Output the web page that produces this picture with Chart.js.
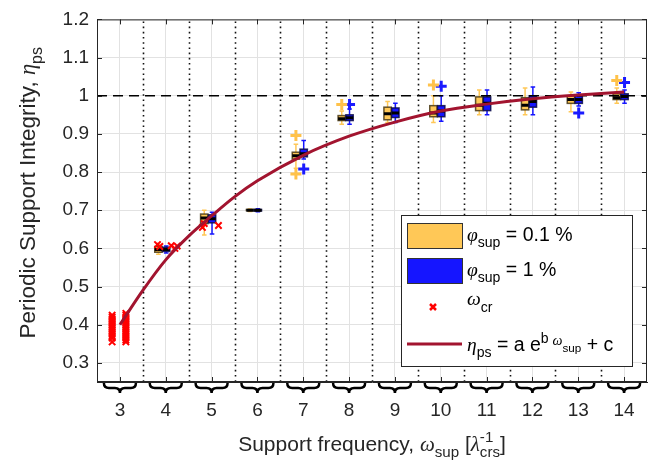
<!DOCTYPE html>
<html lang="en">
<head>
<meta charset="UTF-8" />
<title>Periodic Support Integrity</title>
<script src="https://cdn.jsdelivr.net/npm/chart.js"></script>
<style>
  html, body { margin: 0; padding: 0; background: #fff; }
  #wrap { width: 656px; height: 467px; }
</style>
</head>
<body>
<div id="wrap"><canvas id="chart" width="656" height="467"></canvas></div>
<script>
// ---- data ----
const xTicks = [3, 4, 5, 6, 7, 8, 9, 10, 11, 12, 13, 14];
const yTicks = [0.3, 0.4, 0.5, 0.6, 0.7, 0.8, 0.9, 1.0, 1.1, 1.2];

const boxFreqs = [4, 5, 6, 7, 8, 9, 10, 11, 12, 13, 14];
// phi_sup = 0.1 %
const lo01  = [0.585, 0.635, 0.697, 0.810, 0.925, 0.930, 0.930, 0.950, 0.950, 0.958, 0.980];
const q1_01 = [0.590, 0.665, 0.699, 0.834, 0.935, 0.937, 0.945, 0.961, 0.963, 0.980, 0.990];
const med01 = [0.597, 0.680, 0.700, 0.843, 0.940, 0.953, 0.955, 0.975, 0.975, 0.990, 0.995];
const q3_01 = [0.605, 0.690, 0.702, 0.852, 0.948, 0.970, 0.974, 0.997, 0.995, 1.000, 1.005];
const hi01  = [0.610, 0.700, 0.703, 0.873, 0.960, 0.985, 1.000, 1.015, 1.020, 1.010, 1.020];
// phi_sup = 1 %
const lo1  = [0.588, 0.638, 0.696, 0.834, 0.925, 0.930, 0.933, 0.950, 0.950, 0.973, 0.980];
const q1_1 = [0.592, 0.667, 0.698, 0.840, 0.935, 0.943, 0.945, 0.961, 0.970, 0.980, 0.990];
const med1 = [0.597, 0.678, 0.700, 0.848, 0.942, 0.955, 0.960, 0.980, 0.985, 0.990, 0.998];
const q3_1 = [0.603, 0.688, 0.702, 0.860, 0.950, 0.968, 0.974, 0.997, 1.000, 1.000, 1.005];
const hi1  = [0.606, 0.695, 0.704, 0.883, 0.965, 0.980, 1.000, 1.015, 1.023, 1.008, 1.015];

// outliers
const outX01 = [7, 7, 8, 10, 14];
const outY01 = [0.896, 0.795, 0.977, 1.028, 1.040];
const outX1  = [7, 8, 10, 13, 14];
const outY1  = [0.808, 0.977, 1.025, 0.955, 1.035];

// omega_cr points
const critX = [2.83, 2.83, 2.83, 2.83, 2.83, 2.83, 2.83, 2.83, 2.83, 2.83, 2.83, 2.83, 2.83, 2.83,
  3.13, 3.13, 3.13, 3.13, 3.13, 3.13, 3.13, 3.13, 3.13, 3.13, 3.13, 3.13, 3.13, 3.13, 3.13, 3.13,
  3.82, 3.87, 4.12, 4.2, 4.25,
  4.8, 4.84, 5.15];
const critY = [0.425, 0.42, 0.415, 0.41, 0.405, 0.40, 0.395, 0.39, 0.385, 0.38, 0.375, 0.37, 0.365, 0.355,
  0.43, 0.425, 0.42, 0.415, 0.41, 0.405, 0.40, 0.395, 0.39, 0.385, 0.38, 0.375, 0.37, 0.365, 0.36, 0.355,
  0.61, 0.605, 0.607, 0.60, 0.606,
  0.655, 0.665, 0.66];

// fitted curve, read at these frequencies
const fitX = [3, 3.5, 4, 4.5, 5, 5.5, 6, 7, 8, 9, 10, 11, 12, 13, 14];
const fitY = [0.40, 0.49, 0.57, 0.632, 0.685, 0.735, 0.777, 0.844, 0.894, 0.931, 0.96, 0.978, 0.992, 1.002, 1.01];

const refX = [2.5, 14.5];
const refY = [1, 1];

// ---- styling ----
const SANS = '"Liberation Sans", Arial, sans-serif';
const SERIF = '"Liberation Serif", "DejaVu Serif", serif';
const TXT = '#262626';
const ORANGE = '#ffc857';
const BLUE = '#1515ff';
const FITRED = '#a2142f';
const OFF01 = -0.16, OFF1 = 0.01, HALF = 0.08, CAP = 0.05;

// rich text with sub / superscripts
function fontFor(p, size) {
  const s = size * (p.s || 1);
  return (p.g ? 'italic ' : '') + s + 'px ' + (p.g ? SERIF : SANS);
}
function partW(ctx, p, size) {
  ctx.font = fontFor(p, size);
  let w = ctx.measureText(p.t).width;
  if (p.stack) {
    ctx.font = fontFor(p.stack, size);
    w = Math.max(w, ctx.measureText(p.stack.t).width);
  }
  return w;
}
function drawRich(ctx, parts, x, y, size, align) {
  let total = 0;
  parts.forEach(p => total += partW(ctx, p, size));
  let cx = align === 'center' ? x - total / 2 : x;
  ctx.textBaseline = 'alphabetic';
  ctx.textAlign = 'left';
  parts.forEach(p => {
    const w = partW(ctx, p, size);
    ctx.font = fontFor(p, size);
    ctx.fillText(p.t, cx, y + (p.dy || 0) * size);
    if (p.stack) {
      ctx.font = fontFor(p.stack, size);
      ctx.fillText(p.stack.t, cx, y + (p.stack.dy || 0) * size);
    }
    cx += w;
  });
}

const figurePlugin = {
  id: 'figure',
  beforeDatasetsDraw(chart) {
    const { ctx, chartArea: a, scales: { x, y } } = chart;
    ctx.save();
    ctx.beginPath();
    ctx.rect(a.left, a.top, a.right - a.left, a.bottom - a.top);
    ctx.clip();
    // dotted separators between frequencies
    ctx.strokeStyle = '#111';
    ctx.lineWidth = 1.6;
    ctx.setLineDash([1.6, 3.6]);
    for (let i = 0; i < xTicks.length - 1; i++) {
      const px = Math.round(x.getPixelForValue(xTicks[i] + 0.5)) + 0.5;
      ctx.beginPath();
      ctx.moveTo(px, a.top + 2);
      ctx.lineTo(px, a.bottom);
      ctx.stroke();
    }
    ctx.setLineDash([]);
    // boxes
    const series = [
      { off: OFF01, col: ORANGE, lo: lo01, q1: q1_01, med: med01, q3: q3_01, hi: hi01, edge: 'rgba(70,55,20,0.85)' },
      { off: OFF1, col: BLUE, lo: lo1, q1: q1_1, med: med1, q3: q3_1, hi: hi1, edge: 'rgba(10,10,70,0.85)' }
    ];
    series.forEach(s => {
      boxFreqs.forEach((f, i) => {
        const c = f + s.off;
        const xl = x.getPixelForValue(c - HALF), xr = x.getPixelForValue(c + HALF);
        const xc = x.getPixelForValue(c);
        const cl = x.getPixelForValue(c - CAP), cr = x.getPixelForValue(c + CAP);
        const yLo = y.getPixelForValue(s.lo[i]), yQ1 = y.getPixelForValue(s.q1[i]);
        const yQ3 = y.getPixelForValue(s.q3[i]), yHi = y.getPixelForValue(s.hi[i]);
        const yMed = y.getPixelForValue(s.med[i]);
        ctx.strokeStyle = s.col;
        ctx.lineWidth = 1.5;
        ctx.beginPath();
        ctx.moveTo(xc, yLo); ctx.lineTo(xc, yQ1);
        ctx.moveTo(xc, yQ3); ctx.lineTo(xc, yHi);
        ctx.moveTo(cl, yLo); ctx.lineTo(cr, yLo);
        ctx.moveTo(cl, yHi); ctx.lineTo(cr, yHi);
        ctx.stroke();
        ctx.fillStyle = s.col;
        ctx.fillRect(xl, yQ3, xr - xl, yQ1 - yQ3);
        ctx.strokeStyle = s.edge;
        ctx.lineWidth = 1.5;
        ctx.strokeRect(xl, yQ3, xr - xl, yQ1 - yQ3);
        ctx.strokeStyle = '#000';
        ctx.lineWidth = 3;
        ctx.beginPath();
        ctx.moveTo(xl, yMed); ctx.lineTo(xr, yMed);
        ctx.stroke();
      });
    });
    ctx.restore();
  },
  afterDraw(chart) {
    const { ctx, chartArea: a, scales: { x, y } } = chart;
    ctx.save();
    // frame on all four sides with inward ticks
    ctx.strokeStyle = TXT;
    ctx.lineWidth = 1;
    ctx.strokeRect(a.left + 0.5, a.top + 0.5, a.right - a.left - 1, a.bottom - a.top - 1);
    ctx.beginPath();
    xTicks.forEach(v => {
      const px = Math.round(x.getPixelForValue(v)) + 0.5;
      ctx.moveTo(px, a.bottom); ctx.lineTo(px, a.bottom - 5);
      ctx.moveTo(px, a.top); ctx.lineTo(px, a.top + 5);
    });
    yTicks.forEach(v => {
      const py = Math.round(y.getPixelForValue(v)) + 0.5;
      ctx.moveTo(a.left, py); ctx.lineTo(a.left + 5, py);
      ctx.moveTo(a.right, py); ctx.lineTo(a.right - 5, py);
    });
    ctx.stroke();

    // braces under each frequency
    ctx.strokeStyle = '#000';
    ctx.lineWidth = 2.5;
    xTicks.forEach(v => {
      const cx = x.getPixelForValue(v);
      const w = 16, y0 = a.bottom + 1, y1 = a.bottom + 6, y2 = a.bottom + 11;
      ctx.beginPath();
      ctx.moveTo(cx - w, y0);
      ctx.quadraticCurveTo(cx - w, y1, cx - w + 5, y1);
      ctx.lineTo(cx - 5, y1);
      ctx.quadraticCurveTo(cx, y1, cx, y2);
      ctx.quadraticCurveTo(cx, y1, cx + 5, y1);
      ctx.lineTo(cx + w - 5, y1);
      ctx.quadraticCurveTo(cx + w, y1, cx + w, y0);
      ctx.stroke();
    });

    // axis titles
    ctx.fillStyle = TXT;
    drawRich(ctx, [
      { t: 'Support frequency, ' }, { t: 'ω', g: 1 }, { t: 'sup', s: 0.72, dy: 0.3 },
      { t: ' [' }, { t: 'λ', g: 1 },
      { t: '-1', s: 0.72, dy: -0.42, stack: { t: 'crs', s: 0.72, dy: 0.3 } },
      { t: ']' }
    ], (a.left + a.right) / 2, 451, 21, 'center');
    ctx.save();
    ctx.translate(35, (a.top + a.bottom) / 2 - 8);
    ctx.rotate(-Math.PI / 2);
    drawRich(ctx, [
      { t: 'Periodic Support Integrity, ' }, { t: 'η', g: 1 }, { t: 'ps', s: 0.72, dy: 0.3 }
    ], 0, 0, 22.5, 'center');
    ctx.restore();

    // legend
    const L = { x: 401, y: 215, w: 231, h: 151 };
    ctx.fillStyle = '#fff';
    ctx.fillRect(L.x, L.y, L.w, L.h);
    ctx.strokeStyle = TXT;
    ctx.lineWidth = 1;
    ctx.strokeRect(L.x + 0.5, L.y + 0.5, L.w, L.h);
    const fs = 19.5, tx = 467;
    ctx.fillStyle = ORANGE;
    ctx.fillRect(407, 223, 55, 25);
    ctx.strokeStyle = '#333';
    ctx.strokeRect(407.5, 223.5, 55, 25);
    ctx.fillStyle = BLUE;
    ctx.fillRect(407, 258, 55, 25);
    ctx.strokeRect(407.5, 258.5, 55, 25);
    ctx.strokeStyle = 'red';
    ctx.lineWidth = 2.5;
    ctx.beginPath();
    ctx.moveTo(430, 304); ctx.lineTo(436, 310);
    ctx.moveTo(436, 304); ctx.lineTo(430, 310);
    ctx.stroke();
    ctx.strokeStyle = FITRED;
    ctx.lineWidth = 3;
    ctx.beginPath();
    ctx.moveTo(407, 344); ctx.lineTo(462, 344);
    ctx.stroke();
    ctx.fillStyle = '#000';
    drawRich(ctx, [{ t: 'φ', g: 1 }, { t: 'sup', s: 0.72, dy: 0.3 }, { t: ' = 0.1 %' }], tx, 241, fs);
    drawRich(ctx, [{ t: 'φ', g: 1 }, { t: 'sup', s: 0.72, dy: 0.3 }, { t: ' = 1 %' }], tx, 276, fs);
    drawRich(ctx, [{ t: 'ω', g: 1 }, { t: 'cr', s: 0.72, dy: 0.38 }], tx, 305, fs);
    drawRich(ctx, [
      { t: 'η', g: 1 }, { t: 'ps', s: 0.72, dy: 0.3 }, { t: ' = a e' },
      { t: 'b ', s: 0.72, dy: -0.42 }, { t: 'ω', g: 1, s: 0.72, dy: -0.3 },
      { t: 'sup', s: 0.6, dy: 0.05 }, { t: ' + c' }
    ], tx, 351, fs);
    ctx.restore();
  }
};

const ctx = document.getElementById('chart').getContext('2d');
new Chart(ctx, {
  type: 'scatter',
  data: {
    datasets: [
      {
        type: 'line',
        label: 'fit',
        data: fitX.map((v, i) => ({ x: v, y: fitY[i] })),
        borderColor: FITRED,
        borderWidth: 3,
        pointRadius: 0,
        cubicInterpolationMode: 'monotone',
        order: 0
      },
      {
        label: 'cr',
        data: critX.map((v, i) => ({ x: v, y: critY[i] })),
        pointStyle: 'crossRot',
        radius: 4.5,
        borderColor: '#ff0000',
        borderWidth: 2,
        order: 1
      },
      {
        label: 'out01',
        data: outX01.map((v, i) => ({ x: v + OFF01, y: outY01[i] })),
        pointStyle: 'cross',
        radius: 5.5,
        borderColor: '#ffc24a',
        borderWidth: 3,
        order: 2
      },
      {
        label: 'out1',
        data: outX1.map((v, i) => ({ x: v + OFF1, y: outY1[i] })),
        pointStyle: 'cross',
        radius: 5.5,
        borderColor: '#1a1aff',
        borderWidth: 3,
        order: 2
      },
      {
        type: 'line',
        label: 'ref',
        data: refX.map((v, i) => ({ x: v, y: refY[i] })),
        borderColor: '#000',
        borderWidth: 1.3,
        borderDash: [10, 6],
        pointRadius: 0,
        order: 5
      }
    ]
  },
  options: {
    responsive: false,
    animation: false,
    events: [],
    layout: { padding: { top: 16, right: 9, left: 0, bottom: 0 } },
    plugins: { legend: { display: false }, tooltip: { enabled: false } },
    scales: {
      x: {
        type: 'linear',
        min: 2.5,
        max: 14.5,
        afterBuildTicks: s => { s.ticks = xTicks.map(v => ({ value: v })); },
        afterFit: s => { s.height = 85; },
        grid: { color: '#e2e2e2', drawTicks: false },
        border: { color: TXT },
        ticks: { padding: 17, color: TXT, font: { family: SANS, size: 19 } }
      },
      y: {
        type: 'linear',
        min: 0.25,
        max: 1.2,
        afterBuildTicks: s => { s.ticks = yTicks.map(v => ({ value: v })); },
        afterFit: s => { s.width = 97; },
        grid: { color: '#e2e2e2', drawTicks: false },
        border: { color: TXT },
        ticks: {
          padding: 8,
          color: TXT,
          font: { family: SANS, size: 19 },
          callback: v => String(+v.toFixed(1))
        }
      }
    }
  },
  plugins: [figurePlugin]
});
</script>
</body>
</html>
